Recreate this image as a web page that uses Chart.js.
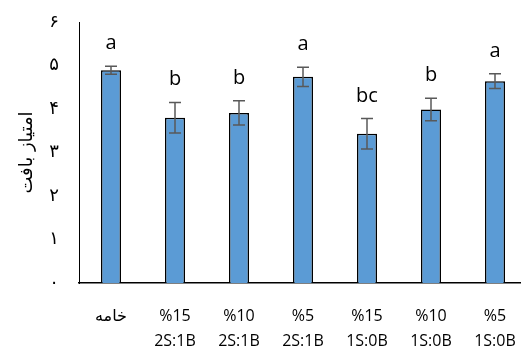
<!DOCTYPE html>
<html>
<head>
<meta charset="utf-8">
<script src="https://cdn.jsdelivr.net/npm/chart.js@4.4.1/dist/chart.umd.min.js"></script>
<style>
  html, body { margin: 0; padding: 0; background: #fff; }
  #wrap { width: 521px; height: 364px; overflow: hidden; }
  canvas { display: block; }
</style>
</head>
<body>
<div id="wrap"><canvas id="c" width="530" height="364"></canvas></div>
<script>
const categories = [['خامه'], ['%15', '2S:1B'], ['%10', '2S:1B'], ['%5', '2S:1B'], ['%15', '1S:0B'], ['%10', '1S:0B'], ['%5', '1S:0B']];
const means = [4.89, 3.80, 3.91, 4.74, 3.43, 3.99, 4.64];
const errors = [0.09, 0.35, 0.28, 0.22, 0.35, 0.26, 0.17];
const letters = ['a', 'b', 'b', 'a', 'bc', 'b', 'a'];
const tickLabels = ['۰', '۱', '۲', '۳', '۴', '۵', '۶'];
const yTitle = 'امتیاز بافت';

const LATIN = "'Open Sans', 'DejaVu Sans', sans-serif";
const ARABIC = "'DejaVu Sans', sans-serif";

// error bars + significance letters drawn from the scales
const extras = {
  id: 'extras',
  afterDatasetsDraw(chart) {
    const { ctx, scales: { y } } = chart;
    const meta = chart.getDatasetMeta(0);
    ctx.save();
    meta.data.forEach((bar, i) => {
      const cx = bar.x;
      const top = y.getPixelForValue(means[i] + errors[i]);
      const bot = y.getPixelForValue(means[i] - errors[i]);
      ctx.strokeStyle = '#595959';
      ctx.lineWidth = 1.5;
      ctx.beginPath();
      ctx.moveTo(cx, top); ctx.lineTo(cx, bot);
      ctx.moveTo(cx - 6, top); ctx.lineTo(cx + 6, top);
      ctx.moveTo(cx - 6, bot); ctx.lineTo(cx + 6, bot);
      ctx.stroke();
      ctx.fillStyle = '#000';
      ctx.font = '20px ' + LATIN;
      ctx.textAlign = 'center';
      ctx.textBaseline = 'alphabetic';
      ctx.fillText(letters[i], cx, top - 17);
    });
    ctx.restore();
  }
};

new Chart(document.getElementById('c'), {
  type: 'bar',
  data: {
    labels: categories,
    datasets: [{
      data: means,
      backgroundColor: '#5B9BD5',
      borderColor: '#000',
      borderWidth: 1.5,
      barPercentage: 0.3125,
      categoryPercentage: 1
    }]
  },
  options: {
    responsive: false,
    animation: false,
    devicePixelRatio: 1,
    layout: { padding: { top: 22, right: 3, left: 0, bottom: 0 } },
    plugins: { legend: { display: false }, tooltip: { enabled: false } },
    scales: {
      x: {
        grid: { display: false, drawTicks: false },
        border: { color: '#000', width: 1.5 },
        ticks: {
          color: '#000', padding: 21, autoSkip: false, maxRotation: 0,
          font: { family: LATIN, size: 16, lineHeight: 1.56 }
        },
        afterFit: (s) => { s.height = 81; s.paddingLeft = 0; s.paddingRight = 0; }
      },
      y: {
        min: 0, max: 6,
        grid: { display: false, drawTicks: false },
        border: { color: '#000', width: 1 },
        ticks: {
          stepSize: 1, color: '#000', padding: 20,
          font: { family: ARABIC, size: 18 },
          callback: (v) => tickLabels[v]
        },
        title: {
          display: true, text: yTitle, color: '#000',
          font: { family: ARABIC, size: 18 },
          padding: { top: 17, bottom: 0 }
        },
        afterFit: (s) => { s.width = 79; s.paddingTop = 0; s.paddingBottom = 0; }
      }
    }
  },
  plugins: [extras]
});
</script>
</body>
</html>
